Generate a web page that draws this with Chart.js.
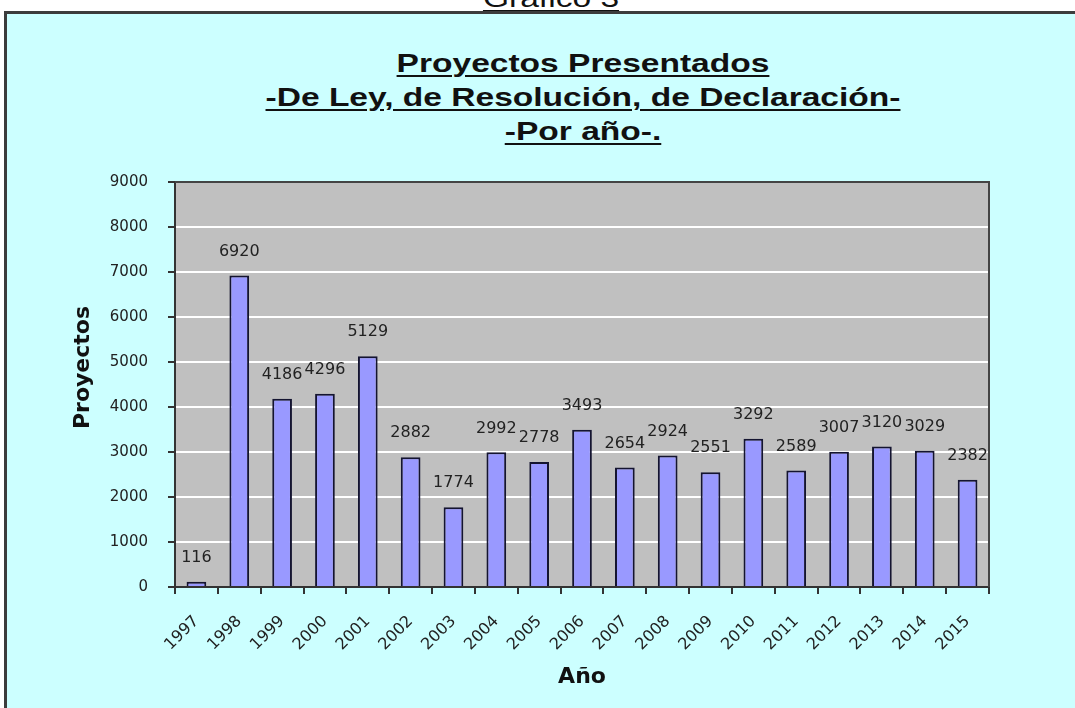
<!DOCTYPE html>
<html>
<head>
<meta charset="utf-8">
<script src="https://cdn.jsdelivr.net/npm/chart.js@4.4.1/dist/chart.umd.min.js"></script>
<style>
  body { margin: 0; background: #fff; overflow: hidden; }
  #wrap { position: relative; width: 1075px; height: 708px; overflow: hidden; }
  #frame {
    position: absolute; left: 4px; top: 11px; width: 1100px; height: 720px;
    background: #CCFFFF; border: 3px solid #3c3c3c; box-sizing: border-box;
  }
  .stretch {
    position: absolute; left: 0; text-align: center;
    font-family: "Liberation Sans", Arial, sans-serif; color: #111;
    text-decoration: underline; text-decoration-thickness: 2px; text-underline-offset: 3px;
  }
  #grafico { top: -17px; width: 1102px; font-size: 26px; line-height: 30px; transform: scaleX(1.29); transform-origin: 551px 0; }
  #titulo { top: 46px; width: 1166px; font-size: 26px; line-height: 34px; font-weight: bold; transform: scaleX(1.29); transform-origin: 583px 0; }
  canvas { position: absolute; left: 0; top: 0; }
</style>
</head>
<body>
<div id="wrap">
  <div class="stretch" id="grafico">Gráfico 3</div>
  <div id="frame"></div>
  <div class="stretch" id="titulo">Proyectos Presentados<br>-De Ley, de Resolución, de Declaración-<br>-Por año-.</div>
  <canvas id="c-chart-bar" width="1075" height="708"></canvas>
</div>
<script>
var years = ['1997', '1998', '1999', '2000', '2001', '2002', '2003', '2004', '2005', '2006',
  '2007', '2008', '2009', '2010', '2011', '2012', '2013', '2014', '2015']
var proyectos = [116, 6920, 4186, 4296, 5129, 2882, 1774, 2992, 2778, 3493,
  2654, 2924, 2551, 3292, 2589, 3007, 3120, 3029, 2382]
var yMin = 0
var yMax = 9000
var yStep = 1000

// fondo gris del área de trazado y su marco
var plotArea = {
  id: 'plotArea',
  beforeDraw: function(chart) {
    var ctx = chart.ctx, a = chart.chartArea
    ctx.save()
    ctx.fillStyle = '#C0C0C0'
    ctx.fillRect(a.left, a.top, a.right - a.left, a.bottom - a.top)
    ctx.restore()
  },
  afterDraw: function(chart) {
    var ctx = chart.ctx, a = chart.chartArea
    ctx.save()
    ctx.strokeStyle = '#444'
    ctx.lineWidth = 2
    ctx.beginPath()
    ctx.moveTo(a.left, a.top)
    ctx.lineTo(a.right, a.top)
    ctx.lineTo(a.right, a.bottom)
    ctx.stroke()

    // título del eje Y, algo por encima del centro como en el original
    ctx.translate(a.left - 92, (a.top + a.bottom) / 2 - 17)
    ctx.rotate(-Math.PI / 2)
    ctx.font = 'bold 22px "DejaVu Sans"'
    ctx.fillStyle = '#111'
    ctx.textAlign = 'center'
    ctx.textBaseline = 'middle'
    ctx.fillText('Proyectos', 0, 0)
    ctx.restore()
  }
}

// etiquetas de valor encima de cada barra
var valueLabels = {
  id: 'valueLabels',
  afterDatasetsDraw: function(chart) {
    var ctx = chart.ctx
    var meta = chart.getDatasetMeta(0)
    ctx.save()
    ctx.font = '16px "DejaVu Sans"'
    ctx.fillStyle = '#222'
    ctx.textAlign = 'center'
    ctx.textBaseline = 'middle'
    meta.data.forEach(function(bar, i) {
      ctx.fillText(String(proyectos[i]), bar.x, bar.y - 24)
    })
    ctx.restore()
  }
}

var config = {
  type: 'bar',
  data: {
    labels: years,
    datasets: [
      {
        label: 'Proyectos',
        data: proyectos,
        backgroundColor: '#9999FF',
        borderColor: '#141430',
        borderWidth: 2,
        borderSkipped: 'bottom',
        categoryPercentage: 1,
        barPercentage: 0.46
      }
    ]
  },
  options: {
    responsive: false,
    animation: false,
    devicePixelRatio: 1,
    layout: { padding: { top: 182, right: 86, bottom: 8, left: 60 } },
    plugins: {
      legend: { display: false },
      tooltip: { enabled: false }
    },
    scales: {
      x: {
        grid: { display: true, drawOnChartArea: false, tickLength: 7, tickColor: '#333', lineWidth: 2 },
        border: { display: true, color: '#333', width: 2 },
        ticks: {
          minRotation: 45, maxRotation: 45, padding: 18,
          color: '#222', font: { family: 'DejaVu Sans', size: 16 }
        },
        title: {
          display: true, text: 'Año', color: '#111',
          font: { family: 'DejaVu Sans', size: 22, weight: 'bold' },
          padding: { top: 4, bottom: 10 }
        },
        afterFit: function(scale) { scale.height = 113 }
      },
      y: {
        min: yMin,
        max: yMax,
        grid: { color: '#ffffff', lineWidth: 2, tickLength: 7, tickColor: '#333' },
        border: { display: true, color: '#333', width: 2 },
        ticks: {
          stepSize: yStep, padding: 20,
          color: '#222', font: { family: 'DejaVu Sans', size: 15 },
          callback: function(value) { return String(value) }
        },
        title: { display: false },
        afterFit: function(scale) { scale.width = 115 }
      }
    }
  },
  plugins: [plotArea, valueLabels]
}

var ctx = document.getElementById('c-chart-bar').getContext('2d')
new Chart(ctx, config)
</script>
</body>
</html>
